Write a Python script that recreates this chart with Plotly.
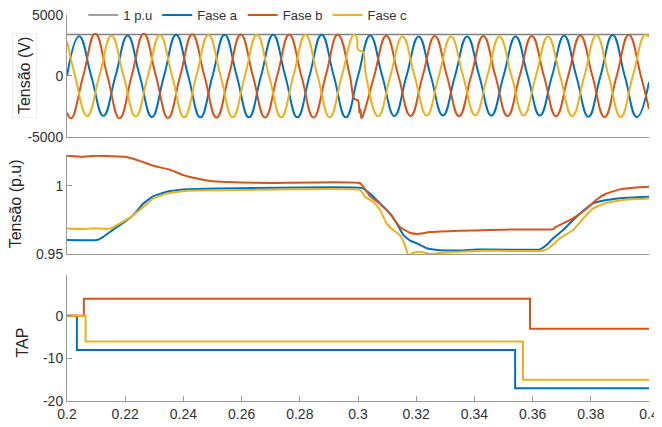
import plotly.graph_objects as go

# ---------------- data ----------------
x_range = [0.2, 0.4]
pu_ref_t = [0.2, 0.4]
pu_ref_v = [3397, 3397]

# Phase a instantaneous voltage (extrema and zero crossings)
t_a = [0.2, 0.20417, 0.20833, 0.2125, 0.21667, 0.22083, 0.225, 0.22917, 0.23333, 0.2375,
       0.24167, 0.24583, 0.25, 0.25417, 0.25833, 0.2625, 0.26667, 0.27083, 0.275, 0.27917,
       0.28333, 0.2875, 0.29167, 0.29583, 0.3, 0.30417, 0.30833, 0.3125, 0.31667, 0.32083,
       0.325, 0.32917, 0.33333, 0.3375, 0.34167, 0.34583, 0.35, 0.35417, 0.35833, 0.3625,
       0.36667, 0.37083, 0.375, 0.37917, 0.38333, 0.3875, 0.39167, 0.39583, 0.4]
v_a = [0, 3262, 0, -3270, 0, 3312, 0, -3360, 0, 3385,
       0, -3390, 0, 3390, 0, -3390, 0, 3390, 0, -3390,
       0, 3390, 0, -3390, 0, 3320, 0, -3280, 0, 3245,
       0, -3237, 0, 3238, 0, -3240, 0, 3240, 0, -3240,
       0, 3290, 0, -3335, 0, 3360, 0, -3368, -500]

# Phase b
t_b = [0.2, 0.20139, 0.20556, 0.20972, 0.21389, 0.21806, 0.22222, 0.22639, 0.23056, 0.23472,
       0.23889, 0.24306, 0.24722, 0.25139, 0.25556, 0.25972, 0.26389, 0.26806, 0.27222, 0.27639,
       0.28056, 0.28472, 0.28889, 0.29306, 0.29722, 0.2986, 0.2994, 0.3, 0.3005, 0.3008,
       0.3012, 0.3017, 0.30556, 0.30972, 0.31389, 0.31806, 0.32222, 0.32639, 0.33056, 0.33472,
       0.33889, 0.34306, 0.34722, 0.35139, 0.35556, 0.35972, 0.36389, 0.36806, 0.37222, 0.37639,
       0.38056, 0.38472, 0.38889, 0.39306, 0.39722, 0.4]
v_b = [-3007, -3472, 0, 3472, 0, -3470, 0, 3455, 0, -3440,
       0, 3425, 0, -3412, 0, 3406, 0, -3404, 0, 3404,
       0, -3404, 0, 3404, 0, -1800, -1950, -2000, -3000, -2750,
       -3450, -3250, 0, 3300, 0, -3285, 0, 3282, 0, -3285,
       0, 3287, 0, -3288, 0, 3288, 0, -3295, 0, 3325,
       0, -3370, 0, 3388, 0, -2700]

# Phase c
t_c = [0.2, 0.20278, 0.20694, 0.21111, 0.21528, 0.21944, 0.22361, 0.22778, 0.23194, 0.23611,
       0.24028, 0.24444, 0.24861, 0.25278, 0.25694, 0.26111, 0.26528, 0.26944, 0.27361, 0.27778,
       0.28194, 0.28611, 0.29028, 0.29444, 0.29861, 0.2996, 0.30005, 0.301, 0.30175, 0.30278,
       0.30694, 0.31111, 0.31528, 0.31944, 0.32361, 0.32778, 0.33194, 0.33611, 0.34028, 0.34444,
       0.34861, 0.35278, 0.35694, 0.36111, 0.36528, 0.36944, 0.37361, 0.37778, 0.38194, 0.38611,
       0.39028, 0.39444, 0.39861, 0.4]
v_c = [2851, 0, -3292, 0, 3295, 0, -3320, 0, 3365, 0,
       -3383, 0, 3387, 0, -3387, 0, 3387, 0, -3387, 0,
       3387, 0, -3387, 0, 3390, 3150, 2150, 2050, 2000, 0,
       -3300, 0, 3240, 0, -3232, 0, 3232, 0, -3233, 0,
       3235, 0, -3235, 0, 3245, 0, -3285, 0, 3335, 0,
       -3358, 0, 3365, 3200]

# RMS voltage (p.u)
t_rms_a = [0.2, 0.2102, 0.2125, 0.216, 0.2194, 0.2228, 0.2263, 0.2297, 0.2343, 0.2411,
           0.2514, 0.3013, 0.3041, 0.3076, 0.311, 0.3133, 0.3156, 0.3179, 0.3202, 0.3236,
           0.3282, 0.335, 0.3408, 0.3625, 0.3648, 0.367, 0.3705, 0.3739, 0.3774, 0.3808,
           0.3854, 0.3923, 0.4]
v_rms_a = [0.9604, 0.9604, 0.9628, 0.9682, 0.973, 0.9786, 0.9872, 0.9925, 0.9956, 0.9974,
           0.998, 0.9985, 0.9944, 0.9872, 0.9799, 0.9726, 0.964, 0.960, 0.958, 0.9544,
           0.953, 0.9528, 0.9536, 0.9536, 0.9568, 0.9616, 0.9677, 0.975, 0.9818, 0.9872,
           0.9896, 0.9913, 0.992]
t_rms_b = [0.2, 0.205, 0.21, 0.215, 0.22, 0.225, 0.23, 0.235, 0.24, 0.245,
           0.25, 0.26, 0.27, 0.3007, 0.3041, 0.3076, 0.311, 0.3144, 0.3179, 0.3202,
           0.3247, 0.335, 0.3454, 0.3546, 0.367, 0.368, 0.3717, 0.3751, 0.3786, 0.382,
           0.3854, 0.39, 0.3957, 0.4]
v_rms_b = [1.0219, 1.0212, 1.022, 1.0216, 1.0212, 1.0182, 1.0144, 1.012, 1.0078, 1.0051,
           1.0034, 1.0025, 1.002, 1.002, 0.9925, 0.9868, 0.9795, 0.970, 0.9657, 0.9648,
           0.9662, 0.9672, 0.9677, 0.9682, 0.9682, 0.970, 0.9738, 0.9779, 0.9835, 0.990,
           0.9944, 0.9974, 0.9988, 0.9993]
t_rms_c = [0.2, 0.205, 0.21, 0.2148, 0.2171, 0.2206, 0.2228, 0.2263, 0.2297, 0.2343,
           0.2411, 0.26, 0.3007, 0.3024, 0.3053, 0.3076, 0.3098, 0.3121, 0.3144, 0.3161,
           0.3173, 0.319, 0.3213, 0.3247, 0.3293, 0.335, 0.343, 0.3636, 0.3659, 0.3693,
           0.3739, 0.3774, 0.3808, 0.3854, 0.3923, 0.4]
v_rms_c = [0.9689, 0.9685, 0.969, 0.9687, 0.9713, 0.9755, 0.9786, 0.9847, 0.9908, 0.9944,
           0.9964, 0.9969, 0.997, 0.992, 0.9883, 0.9823, 0.9726, 0.9677, 0.964, 0.9568,
           0.9495, 0.9512, 0.9519, 0.9502, 0.9512, 0.9519, 0.9526, 0.9526, 0.955, 0.9616,
           0.9677, 0.9762, 0.9835, 0.9876, 0.99, 0.9908]

# TAP positions
t_tap_a = [0.2, 0.2034, 0.354, 0.4]
v_tap_a = [0, -8, -17, -17]
t_tap_b = [0.2, 0.2058, 0.3591, 0.4]
v_tap_b = [0, 4, -3, -3]
t_tap_c = [0.2, 0.2064, 0.3567, 0.4]
v_tap_c = [0, -6, -15, -15]

x_ticks = [0.2, 0.22, 0.24, 0.26, 0.28, 0.3, 0.32, 0.34, 0.36, 0.38, 0.4]
x_ticktext = ['0.2', '0.22', '0.24', '0.26', '0.28', '0.3', '0.32', '0.34', '0.36', '0.38', '0.4']

names = ['Fase a', 'Fase b', 'Fase c']
colors = ['#0072BD', '#D95319', '#EDB120']

# ---------------- figure ----------------
fig = go.Figure()
fig.add_trace(go.Scatter(x=pu_ref_t, y=pu_ref_v, mode='lines', name='1 p.u',
                         line=dict(color='#808080', width=1.5), xaxis='x', yaxis='y'))
for t, v, n, c in zip([t_a, t_b, t_c], [v_a, v_b, v_c], names, colors):
    fig.add_trace(go.Scatter(x=t, y=v, mode='lines', name=n,
                             line=dict(color=c, width=2, shape='spline', smoothing=1.3),
                             xaxis='x', yaxis='y'))
for t, v, c in zip([t_rms_a, t_rms_b, t_rms_c], [v_rms_a, v_rms_b, v_rms_c], colors):
    fig.add_trace(go.Scatter(x=t, y=v, mode='lines', showlegend=False,
                             line=dict(color=c, width=2, shape='spline', smoothing=0.3),
                             xaxis='x2', yaxis='y2'))
for t, v, c in zip([t_tap_a, t_tap_b, t_tap_c], [v_tap_a, v_tap_b, v_tap_c], colors):
    fig.add_trace(go.Scatter(x=t, y=v, mode='lines', showlegend=False,
                             line=dict(color=c, width=2, shape='hv'),
                             xaxis='x3', yaxis='y3'))

axcol = '#9a9a9a'
tickfont = dict(family='Liberation Sans, Arial, sans-serif', size=14, color='#333333')
common_x = dict(range=x_range, showgrid=False, zeroline=False, showline=True,
                linecolor=axcol, linewidth=1, tickfont=tickfont, ticklabeloverflow='allow')
common_y = dict(showgrid=False, zeroline=False, showline=True, linecolor=axcol,
                linewidth=1, ticks='inside', ticklen=5, tickcolor=axcol, tickfont=tickfont,
                ticklabeloverflow='allow')

# the page body adds an 8 px offset, so the figure is sized to fit inside the window
fig.update_layout(
    width=654, height=419,
    margin=dict(l=59, r=13, t=7, b=26, autoexpand=False),
    paper_bgcolor='white', plot_bgcolor='white',
    font=dict(family='Liberation Sans, Arial, sans-serif', color='#333333'),
    xaxis=dict(common_x, anchor='y', showticklabels=False, ticks=''),
    xaxis2=dict(common_x, anchor='y2', showticklabels=False, ticks=''),
    xaxis3=dict(common_x, anchor='y3', ticks='inside', ticklen=5, tickcolor=axcol,
                tickvals=x_ticks, ticktext=x_ticktext),
    yaxis=dict(common_y, domain=[0.684, 1.0], range=[-5000, 5000],
               tickvals=[-5000, 0, 5000], ticktext=['-5000', '0', '5000']),
    yaxis2=dict(common_y, domain=[0.38, 0.637], range=[0.95, 1.0224],
                tickvals=[0.95, 1], ticktext=['0.95', '1']),
    yaxis3=dict(common_y, domain=[0.0, 0.3264], range=[-20, 9.6],
                tickvals=[-20, -10, 0], ticktext=['-20', '-10', '0']),
    legend=dict(orientation='h', x=0.028, y=1.0, xanchor='left', yanchor='middle',
                bgcolor='rgba(255,255,255,0)', font=dict(size=13, color='#333333'),
                itemwidth=30),
    showlegend=True,
)

title_font = dict(family='Liberation Sans, Arial, sans-serif', size=16, color='#262626')
fig.add_annotation(text='Tensão (V)', xref='paper', yref='paper', x=-0.072, y=0.842,
                   xanchor='center', yanchor='middle', textangle=-90, showarrow=False,
                   font=title_font, bordercolor='#ebebeb', borderwidth=1, borderpad=3)
fig.add_annotation(text='Tensão (p.u)', xref='paper', yref='paper', x=-0.089, y=0.510,
                   xanchor='center', yanchor='middle', textangle=-90, showarrow=False,
                   font=title_font)
fig.add_annotation(text='TAP', xref='paper', yref='paper', x=-0.076, y=0.151,
                   xanchor='center', yanchor='middle', textangle=-90, showarrow=False,
                   font=title_font)

fig.write_html('out.html')
